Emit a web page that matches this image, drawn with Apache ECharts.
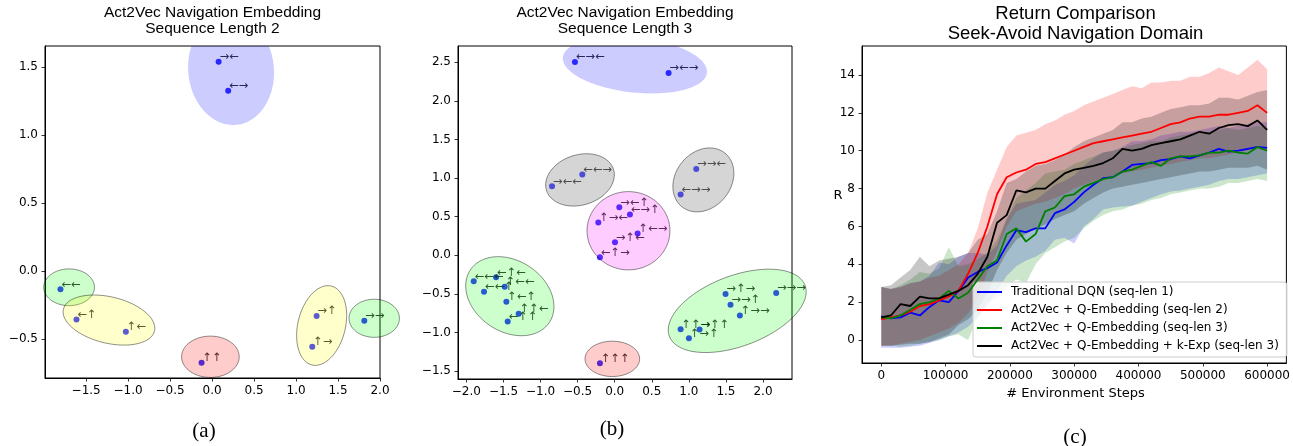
<!DOCTYPE html>
<html><head><meta charset="utf-8">
<script src="https://cdn.jsdelivr.net/npm/echarts@6/dist/echarts.min.js"></script>
<style>html,body{margin:0;padding:0;background:#fff}#c{width:1293px;height:446px}</style>
</head><body><div id="c"></div>
<script>
// ---------- Panel (a): sequence length 2 ----------
const labelsA = ['→←','←→','←←','←↑','↑←','↑↑','→↑','↑→','→→'];
const xA = [0.078,0.192,-1.806,-1.615,-1.027,-0.125,1.245,1.193,1.813];
const yA = [1.538,1.325,-0.135,-0.356,-0.447,-0.675,-0.331,-0.557,-0.366];
// ellipse: [centerX, centerY, halfWidth(x-extent), halfHeight(y-extent), yOffsetOfRightmostPoint]
const ellA = [[0.226,1.478,0.51,0.404,-0.02],[-1.703,-0.12,0.302,0.135,0],[-1.228,-0.361,0.546,0.184,-0.06],
              [-0.02,-0.631,0.343,0.152,0],[1.305,-0.401,0.298,0.293,0.074],[1.931,-0.348,0.30,0.14,0]];
const ellAColors = ['blue','green','yellow','red','yellow','green'];
const ticksAX = [-1.5,-1.0,-0.5,0,0.5,1.0,1.5,2.0];
const ticksAY = [-0.5,0,0.5,1.0,1.5];

// ---------- Panel (b): sequence length 3 ----------
const labelsB = ['←→←','→←→','←←→','→←←','→→←','←→→','→←↑','←→↑','↑→←','↑←→','→↑←','←↑→',
  '←←←','←↑←','←←↑','↑←←','↑←↑','↑↑←','←↑↑','→↑→','→→→','→→↑','↑→→','↑↑→','→↑↑','↑→↑','↑↑↑'];
const xB = [-0.536,0.727,-0.437,-0.845,1.10,0.889,0.062,0.206,-0.221,0.309,0.004,-0.199,
  -1.901,-1.600,-1.762,-1.483,-1.461,-1.295,-1.443,1.495,2.178,1.562,1.688,0.889,1.145,1.001,-0.199];
const yB = [2.504,2.362,1.045,0.894,1.118,0.786,0.622,0.527,0.423,0.281,0.168,-0.026,
  -0.337,-0.285,-0.475,-0.410,-0.604,-0.760,-0.859,-0.501,-0.488,-0.643,-0.781,-0.959,-0.963,-1.075,-1.399];
const ellB = [[0.273,2.465,0.970,0.367,-0.086],[-0.468,0.976,0.463,0.339,0.065],[1.196,0.976,0.411,0.414,0.086],
              [0.186,0.317,0.559,0.507,0],[-1.414,-0.531,0.595,0.512,-0.134],[1.652,-0.721,0.930,0.540,0.248],
              [-0.032,-1.343,0.368,0.229,0]];
const ellBColors = ['blue','gray','gray','pink','green','green','red'];
const ticksBX = [-2.0,-1.5,-1.0,-0.5,0,0.5,1.0,1.5,2.0];
const ticksBY = [-1.5,-1.0,-0.5,0,0.5,1.0,1.5,2.0,2.5];

// ---------- Panel (c): return comparison ----------
const steps = [0,15000,30000,45000,60000,75000,90000,105000,120000,135000,150000,165000,180000,195000,210000,225000,240000,255000,270000,285000,300000,315000,330000,345000,360000,375000,390000,405000,420000,435000,450000,465000,480000,495000,510000,525000,540000,555000,570000,585000,600000];
const dqnMean = [1.25,1.15,1.2,1.45,1.3,1.75,2.1,2.0,2.6,3.3, 3.6,3.8,4.1,5.0,5.8,5.7,5.9,5.9,6.7,6.9, 7.3,7.8,8.2,8.55,8.6,8.9,9.25,9.3,9.35,9.5, 9.55,9.7,9.6,9.75,9.9,10.1,9.95,10.0,10.1,10.2,10.15];
const dqnLo = [-0.4,-0.4,-0.4,-0.35,-0.3,-0.15,0.0,0.2,0.4,0.7, 1.2,1.8,2.6,3.4,3.9,4.2,4.4,4.7,5.3,5.4, 5.1,6.0,6.4,6.9,7.0,7.05,7.1,7.3,7.5,7.7, 7.85,7.9,8.0,8.1,8.2,8.4,8.5,8.5,8.6,8.7,8.8];
const dqnHi = [2.8,2.7,2.8,3.0,3.1,3.4,4.1,4.0,4.4,4.6, 4.6,4.5,5.0,6.4,7.2,7.3,7.4,7.8,8.2,8.4, 8.7,9.2,9.6,9.9,10.0,10.2,10.5,10.5,10.6,10.8, 10.9,11.0,11.0,11.1,11.2,11.3,11.2,11.3,11.4,11.5,11.5];
const q2Mean = [1.1,1.2,1.3,1.5,1.8,1.9,2.1,2.3,2.6,3.5, 4.6,6.0,7.7,8.6,8.85,9.0,9.3,9.4,9.6,9.8, 10.0,10.2,10.4,10.5,10.6,10.7,10.8,10.9,11.0,11.2, 11.4,11.5,11.7,11.8,11.8,11.9,11.9,12.0,12.1,12.4,12.0];
const q2Lo = [-0.3,-0.3,-0.2,-0.1,0.0,0.2,0.4,0.6,0.9,1.4, 2.2,3.6,4.7,6.0,6.8,7.0,7.2,7.3,7.5,7.7, 8.0,8.2,8.4,8.5,8.7,8.8,8.9,9.0,9.1,9.2, 9.3,9.4,9.5,9.6,9.6,9.7,9.8,9.9,10.0,10.1,10.0];
const q2Hi = [2.8,2.7,2.8,3.0,3.1,3.3,3.4,3.7,4.0,4.6, 5.9,7.8,9.0,10.2,10.8,10.95,11.1,11.4,11.6,11.9, 12.1,12.4,12.6,12.8,13.0,13.2,13.4,13.3,13.6,13.6, 13.7,13.7,13.9,13.9,14.1,14.4,14.2,14.0,14.4,14.8,14.3];
const q3Mean = [1.2,1.15,1.3,1.6,1.9,2.0,2.2,2.6,2.2,2.5, 3.2,3.9,4.2,5.6,5.9,5.2,5.6,6.8,7.0,7.6, 7.7,8.1,8.3,8.5,8.6,8.9,9.0,9.2,9.4,9.2, 9.6,9.7,9.7,9.75,9.9,9.9,10.0,9.9,9.85,10.2,10.0];
const q3Lo = [-0.3,-0.3,-0.35,-0.3,-0.2,-0.1,0.0,0.2,0.3,0.0, 1.2,2.0,2.2,2.8,3.2,3.0,4.0,4.6,4.9,5.2, 5.4,5.9,6.3,6.6,6.8,6.9,7.1,7.2,7.4,7.5, 7.7,7.8,7.9,8.0,8.0,8.1,8.3,8.3,8.4,8.5,8.4];
const q3Hi = [2.8,2.7,2.9,3.2,3.6,3.5,3.8,4.9,3.9,4.0, 4.3,4.6,5.3,6.4,7.5,7.9,8.3,8.8,8.9,9.0, 9.3,9.5,9.7,9.9,10.0,10.1,10.3,10.4,10.5,10.5, 10.7,10.8,10.9,11.0,11.0,11.1,11.2,11.1,11.2,11.3,11.2];
const kMean = [1.2,1.3,1.9,1.8,2.3,2.2,2.2,2.4,2.6,2.9, 3.5,4.4,6.2,6.6,7.9,7.8,8.0,8.0,8.4,8.8, 9.0,9.1,9.2,9.35,9.6,10.1,10.0,10.1,10.3,10.4, 10.5,10.6,10.8,11.0,10.9,11.2,11.35,11.4,11.3,11.6,11.1];
const kLo = [-0.3,-0.3,-0.25,-0.2,-0.2,-0.1,0.1,0.3,0.8,1.1, 1.6,2.5,3.7,4.6,5.3,5.6,5.9,6.1,6.4,6.6, 6.8,7.2,7.5,7.8,8.0,8.1,8.2,8.3,8.4,8.5, 8.6,8.7,8.8,8.9,8.9,9.0,9.1,9.1,9.1,9.2,9.0];
const kHi = [2.8,2.9,3.3,3.7,4.4,3.9,4.2,4.3,4.4,4.6, 5.3,5.6,6.8,8.3,8.5,8.9,9.2,9.3,9.5,9.8, 10.2,10.5,10.7,10.9,11.1,11.5,11.5,11.7,11.8,12.0, 12.2,12.3,12.4,12.4,12.5,12.8,12.8,12.7,12.9,13.1,13.2];
const seriesNames = ['Traditional DQN (seq-len 1)','Act2Vec + Q-Embedding (seq-len 2)','Act2Vec + Q-Embedding (seq-len 3)','Act2Vec + Q-Embedding + k-Exp (seq-len 3)'];
const ticksCX = [0,100000,200000,300000,400000,500000,600000];
const ticksCY = [0,2,4,6,8,10,12,14];

// ---------- styles ----------
const fills = {blue:'rgba(0,0,255,0.2)',green:'rgba(0,255,0,0.2)',yellow:'rgba(255,255,0,0.2)',red:'rgba(255,0,0,0.2)',gray:'rgba(128,128,128,0.33)',pink:'rgba(255,0,255,0.2)'};
const lineColors = ['#0000ff','#ff0000','#008000','#000000'];
const bandColors = ['rgba(0,0,255,0.2)','rgba(255,0,0,0.2)','rgba(0,128,0,0.2)','rgba(0,0,0,0.22)'];
const TICKF = 'DejaVu Sans';

function fmt1(v){ return v.toFixed(1).replace('-', '\u2212'); }

function axis(gridIndex, min, max, ticks, formatter){
  return {gridIndex, type:'value', min, max,
    axisLine:{show:true, onZero:false, lineStyle:{color:'#000', width:1}},
    axisTick:{show:true, inside:false, length:3.5, lineStyle:{color:'#000', width:0.8}, customValues:ticks},
    axisLabel:{customValues:ticks, formatter, color:'#000', fontSize:12, fontFamily:TICKF, margin:7},
    splitLine:{show:false}};
}

function ellipseSeries(ells, colors, idx, gi, clip){
  return {type:'custom', xAxisIndex:gi, yAxisIndex:gi, clip, z:5,
    data: idx.map(i => [ells[i][0], ells[i][1], i]),
    encode:{x:0, y:1},
    renderItem:(params, api) => {
      const e = ells[api.value(2)];
      const by = Math.sqrt(Math.max(0, e[3]*e[3] - e[4]*e[4]));
      const pts = [];
      for (let k = 0; k <= 120; k++){
        const t = 2*Math.PI*k/120;
        pts.push(api.coord([e[0] + e[2]*Math.cos(t), e[1] + e[4]*Math.cos(t) + by*Math.sin(t)]));
      }
      const c = colors[api.value(2)];
      return {type:'polygon', shape:{points:pts},
        style:{fill:fills[c], stroke: c === 'blue' ? 'rgba(0,0,255,0.05)' : 'rgba(0,0,0,0.55)', lineWidth:0.8}};
    }};
}

function scatterSeries(xs, ys, labels, gi){
  return {type:'scatter', xAxisIndex:gi, yAxisIndex:gi, z:3, symbol:'circle', symbolSize:6,
    itemStyle:{color:'#0000ff'},
    data: xs.map((x,i) => ({value:[x, ys[i]], name:labels[i]})),
    label:{show:true, formatter:'{b}', position:[4,-1.5], align:'left', verticalAlign:'middle',
      color:'#000', fontSize:11.5, fontFamily:TICKF}};
}

function bandSeries(lo, hi, color){
  return {type:'custom', xAxisIndex:2, yAxisIndex:2, clip:true, z:2, silent:true,
    data:[[steps[0], lo[0]]], encode:{x:0, y:1},
    renderItem:(params, api) => {
      const pts = [];
      for (let i = 0; i < steps.length; i++) pts.push(api.coord([steps[i], hi[i]]));
      for (let i = steps.length - 1; i >= 0; i--) pts.push(api.coord([steps[i], lo[i]]));
      return {type:'polygon', shape:{points:pts}, style:{fill:color, stroke:'none'}};
    }};
}

function lineSeries(name, vals, color){
  return {type:'line', name, xAxisIndex:2, yAxisIndex:2, z:4, symbol:'none', showSymbol:false,
    data: steps.map((s,i) => [s, vals[i]]),
    lineStyle:{color, width:1.8}, itemStyle:{color}, emphasis:{disabled:true}};
}

const allA = ellA.map((e,i)=>i), allB = ellB.map((e,i)=>i);
const option = {
  animation:false,
  backgroundColor:'#fff',
  grid:[
    {left:45, top:46, width:335, height:332, show:true, borderColor:'#000', borderWidth:1, backgroundColor:'transparent'},
    {left:458, top:46, width:334, height:333, show:true, borderColor:'#000', borderWidth:1, backgroundColor:'transparent'},
    {left:862, top:46, width:427, height:317, show:true, borderColor:'#000', borderWidth:1, backgroundColor:'transparent'}
  ],
  xAxis:[
    axis(0, -1.99, 2.0, ticksAX, fmt1),
    axis(1, -2.113, 2.391, ticksBX, fmt1),
    axis(2, -30000, 630000, ticksCX, v => String(v))
  ],
  yAxis:[
    axis(0, -0.787, 1.654, ticksAY, fmt1),
    axis(1, -1.604, 2.711, ticksBY, fmt1),
    axis(2, -1.21, 15.53, ticksCY, v => String(v))
  ],
  legend:{orient:'vertical', left:973, top:282, data:seriesNames, icon:'rect', itemWidth:25, itemHeight:2, itemGap:4,
    textStyle:{fontSize:12, fontFamily:TICKF, color:'#000', lineHeight:14, padding:[0,0,0,4]},
    padding:[3,8,4,4], backgroundColor:'rgba(255,255,255,0.8)', borderColor:'#cccccc', borderWidth:1, borderRadius:3,
    selectedMode:false},
  graphic:[
    {type:'text', z:10, style:{text:'Act2Vec Navigation Embedding\nSequence Length 2', x:212.5, y:20.5, align:'center', verticalAlign:'middle', lineHeight:15.6, font:'15.5px "Liberation Sans"', fill:'#000'}},
    {type:'text', z:10, style:{text:'Act2Vec Navigation Embedding\nSequence Length 3', x:625, y:20.5, align:'center', verticalAlign:'middle', lineHeight:15.6, font:'15.5px "Liberation Sans"', fill:'#000'}},
    {type:'text', z:10, style:{text:'Return Comparison\nSeek-Avoid Navigation Domain', x:1075.5, y:23.5, align:'center', verticalAlign:'middle', lineHeight:20, font:'18.5px "Liberation Sans"', fill:'#000'}},
    {type:'text', z:10, style:{text:'R', x:838, y:196, align:'center', verticalAlign:'middle', font:'13px "DejaVu Sans"', fill:'#000'}},
    {type:'text', z:10, style:{text:'# Environment Steps', x:1075.5, y:394, align:'center', verticalAlign:'middle', font:'13px "DejaVu Sans"', fill:'#000'}},
    {type:'text', z:10, style:{text:'(a)', x:204, y:431, align:'center', verticalAlign:'middle', font:'21px "Liberation Serif"', fill:'#000'}},
    {type:'text', z:10, style:{text:'(b)', x:612, y:429, align:'center', verticalAlign:'middle', font:'21px "Liberation Serif"', fill:'#000'}},
    {type:'text', z:10, style:{text:'(c)', x:1075, y:437, align:'center', verticalAlign:'middle', font:'21px "Liberation Serif"', fill:'#000'}}
  ],
  series:[
    scatterSeries(xA, yA, labelsA, 0),
    ellipseSeries(ellA, ellAColors, allA.filter(i => ellAColors[i] === 'blue'), 0, true),
    ellipseSeries(ellA, ellAColors, allA.filter(i => ellAColors[i] !== 'blue'), 0, false),
    scatterSeries(xB, yB, labelsB, 1),
    ellipseSeries(ellB, ellBColors, allB.filter(i => ellBColors[i] === 'blue'), 1, true),
    ellipseSeries(ellB, ellBColors, allB.filter(i => ellBColors[i] !== 'blue'), 1, false),
    bandSeries(dqnLo, dqnHi, bandColors[0]),
    bandSeries(q2Lo, q2Hi, bandColors[1]),
    bandSeries(q3Lo, q3Hi, bandColors[2]),
    bandSeries(kLo, kHi, bandColors[3]),
    lineSeries(seriesNames[0], dqnMean, lineColors[0]),
    lineSeries(seriesNames[1], q2Mean, lineColors[1]),
    lineSeries(seriesNames[2], q3Mean, lineColors[2]),
    lineSeries(seriesNames[3], kMean, lineColors[3])
  ]
};
const chart = echarts.init(document.getElementById('c'), null, {renderer:'canvas'});
chart.setOption(option);
</script>
</body></html>
